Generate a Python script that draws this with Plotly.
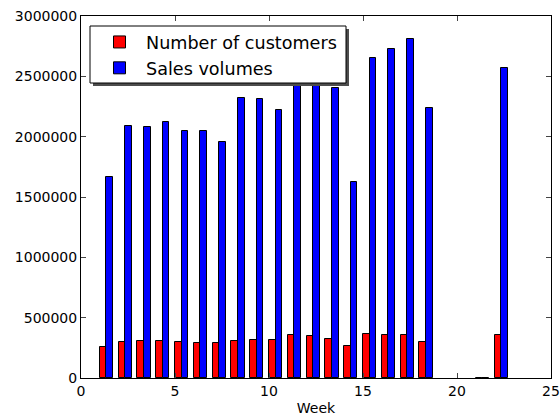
import plotly.graph_objects as go

weeks = [1, 2, 3, 4, 5, 6, 7, 8, 9, 10, 11, 12, 13, 14, 15, 16, 17, 18, 21, 22]
customers = [259000, 298000, 306000, 306000, 298000, 292000, 292000, 306000, 317000, 317000,
             356000, 348000, 326000, 268000, 364000, 359000, 359000, 301000, 0, 359000]
sales = [1668000, 2085000, 2078000, 2120000, 2050000, 2050000, 1952000, 2322000, 2310000, 2222000,
         2560000, 2520000, 2400000, 1625000, 2655000, 2728000, 2812000, 2234000, 0, 2565000]

font = "DejaVu Sans"
L, R, T, B = 81, 551, 16, 378
W, H = R - L, B - T


def px(x):
    return (x - L) / W


def py(y):
    return (B - y) / H


fig = go.Figure()
fig.add_trace(go.Bar(x=weeks, y=customers, width=0.35, offset=0, name="Number of customers",
                     marker=dict(color="#ff0000", line=dict(color="black", width=1))))
fig.add_trace(go.Bar(x=weeks, y=sales, width=0.35, offset=0.35, name="Sales volumes",
                     marker=dict(color="#0000ff", line=dict(color="black", width=1))))

# legend shadow and frame
fig.add_shape(type="rect", xref="paper", yref="paper",
              x0=px(93), x1=px(349), y0=py(86), y1=py(29),
              fillcolor="#4d4d4d", line=dict(width=0), layer="above")
fig.add_shape(type="rect", xref="paper", yref="paper",
              x0=px(90), x1=px(346), y0=py(83), y1=py(26),
              fillcolor="white", line=dict(color="black", width=1), layer="above")

fig.update_layout(
    width=560, height=416,
    margin=dict(l=L, r=560 - R, t=T, b=416 - B, autoexpand=False),
    paper_bgcolor="white", plot_bgcolor="white",
    barmode="overlay", bargap=0,
    font=dict(family=font, size=14, color="black"),
    showlegend=True,
    legend=dict(x=px(93), y=py(24), xanchor="left", yanchor="top",
                bgcolor="rgba(0,0,0,0)", borderwidth=0,
                font=dict(family=font, size=17.6), itemwidth=43, tracegroupgap=0),
    xaxis=dict(range=[0, 25], tickvals=[0, 5, 10, 15, 20, 25], ticks="inside", ticklen=5,
               showgrid=False, zeroline=False, showline=True, linecolor="black", linewidth=1,
               mirror="allticks", automargin=False,
               title=dict(text="Week", font=dict(size=14), standoff=7),
               tickfont=dict(size=14)),
    yaxis=dict(range=[0, 3000000], tickvals=[0, 500000, 1000000, 1500000, 2000000, 2500000, 3000000],
               ticktext=["0", "500000", "1000000", "1500000", "2000000", "2500000", "3000000"],
               ticks="inside", ticklen=5, showgrid=False, zeroline=False, showline=True,
               linecolor="black", linewidth=1, mirror="allticks", automargin=False,
               tickfont=dict(size=14)),
)
fig.write_html("out.html")
